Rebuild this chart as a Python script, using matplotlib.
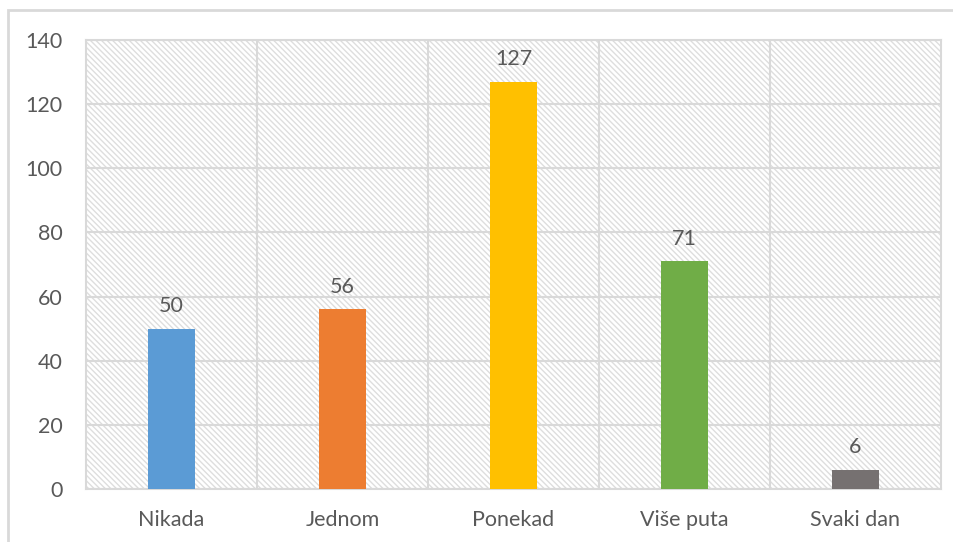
"""
Bar chart: how often (Nikada .. Svaki dan), Excel-like style
"""
import matplotlib
matplotlib.use('Agg')
import matplotlib.pyplot as plt
from matplotlib.patches import Rectangle

# ======================================================================================================================
# Data
CATEGORIES = ['Nikada', 'Jednom', 'Ponekad', 'Više puta', 'Svaki dan']
VALUES = [50, 56, 127, 71, 6]
BAR_COLORS = ['#5B9BD5', '#ED7D31', '#FFC000', '#70AD47', '#767171']
Y_TICKS = [0, 20, 40, 60, 80, 100, 120, 140]

GRID_COLOR = '#d9d9d9'
TEXT_COLOR = '#595959'
HATCH_COLOR = '#dedede'

# ======================================================================================================================
plt.rcParams['font.family'] = ['Lato', 'DejaVu Sans']
plt.rcParams['hatch.color'] = HATCH_COLOR
plt.rcParams['hatch.linewidth'] = 1.0

fig = plt.figure(figsize=(9.54, 5.42), dpi=100)
ax = fig.add_axes([86 / 954, 1 - 489 / 542, 855 / 954, 449 / 542])

# hatched plot area background
ax.patch.set_facecolor('white')
ax.patch.set_hatch('\\' * 6)
ax.patch.set_edgecolor(HATCH_COLOR)

x = range(len(CATEGORIES))
bars = ax.bar(x, VALUES, width=0.27, color=BAR_COLORS, zorder=3)
for b, v in zip(bars, VALUES):
    ax.annotate(str(v), (b.get_x() + b.get_width() / 2, v), xytext=(0, 9), textcoords='offset points',
                ha='center', va='bottom', fontsize=15.5, color=TEXT_COLOR, zorder=4)

ax.set_xlim(-0.5, len(CATEGORIES) - 0.5)
ax.set_ylim(0, 140)
ax.set_yticks(Y_TICKS)
ax.set_xticks(list(x))
ax.set_xticklabels(CATEGORIES)
ax.tick_params(axis='both', length=0, labelsize=15.5, labelcolor=TEXT_COLOR)
ax.tick_params(axis='y', pad=17)
ax.tick_params(axis='x', pad=15)

# horizontal gridlines at ticks, vertical gridlines between categories
ax.yaxis.grid(True, color=GRID_COLOR, linewidth=1.5, zorder=1)
ax.set_axisbelow(True)
for xb in [i + 0.5 for i in range(len(CATEGORIES) - 1)]:
    ax.axvline(xb, color=GRID_COLOR, linewidth=1.5, zorder=1)
for s in ax.spines.values():
    s.set_color(GRID_COLOR)
    s.set_linewidth(1.5)

# outer chart frame (runs off the right/bottom edge)
fig.patches.append(Rectangle((8.5 / 954, -0.1), 1.2, 1 - 10 / 542 + 0.1, transform=fig.transFigure,
                             fill=False, edgecolor=GRID_COLOR, linewidth=2))

fig.savefig('out.png', dpi=100)
